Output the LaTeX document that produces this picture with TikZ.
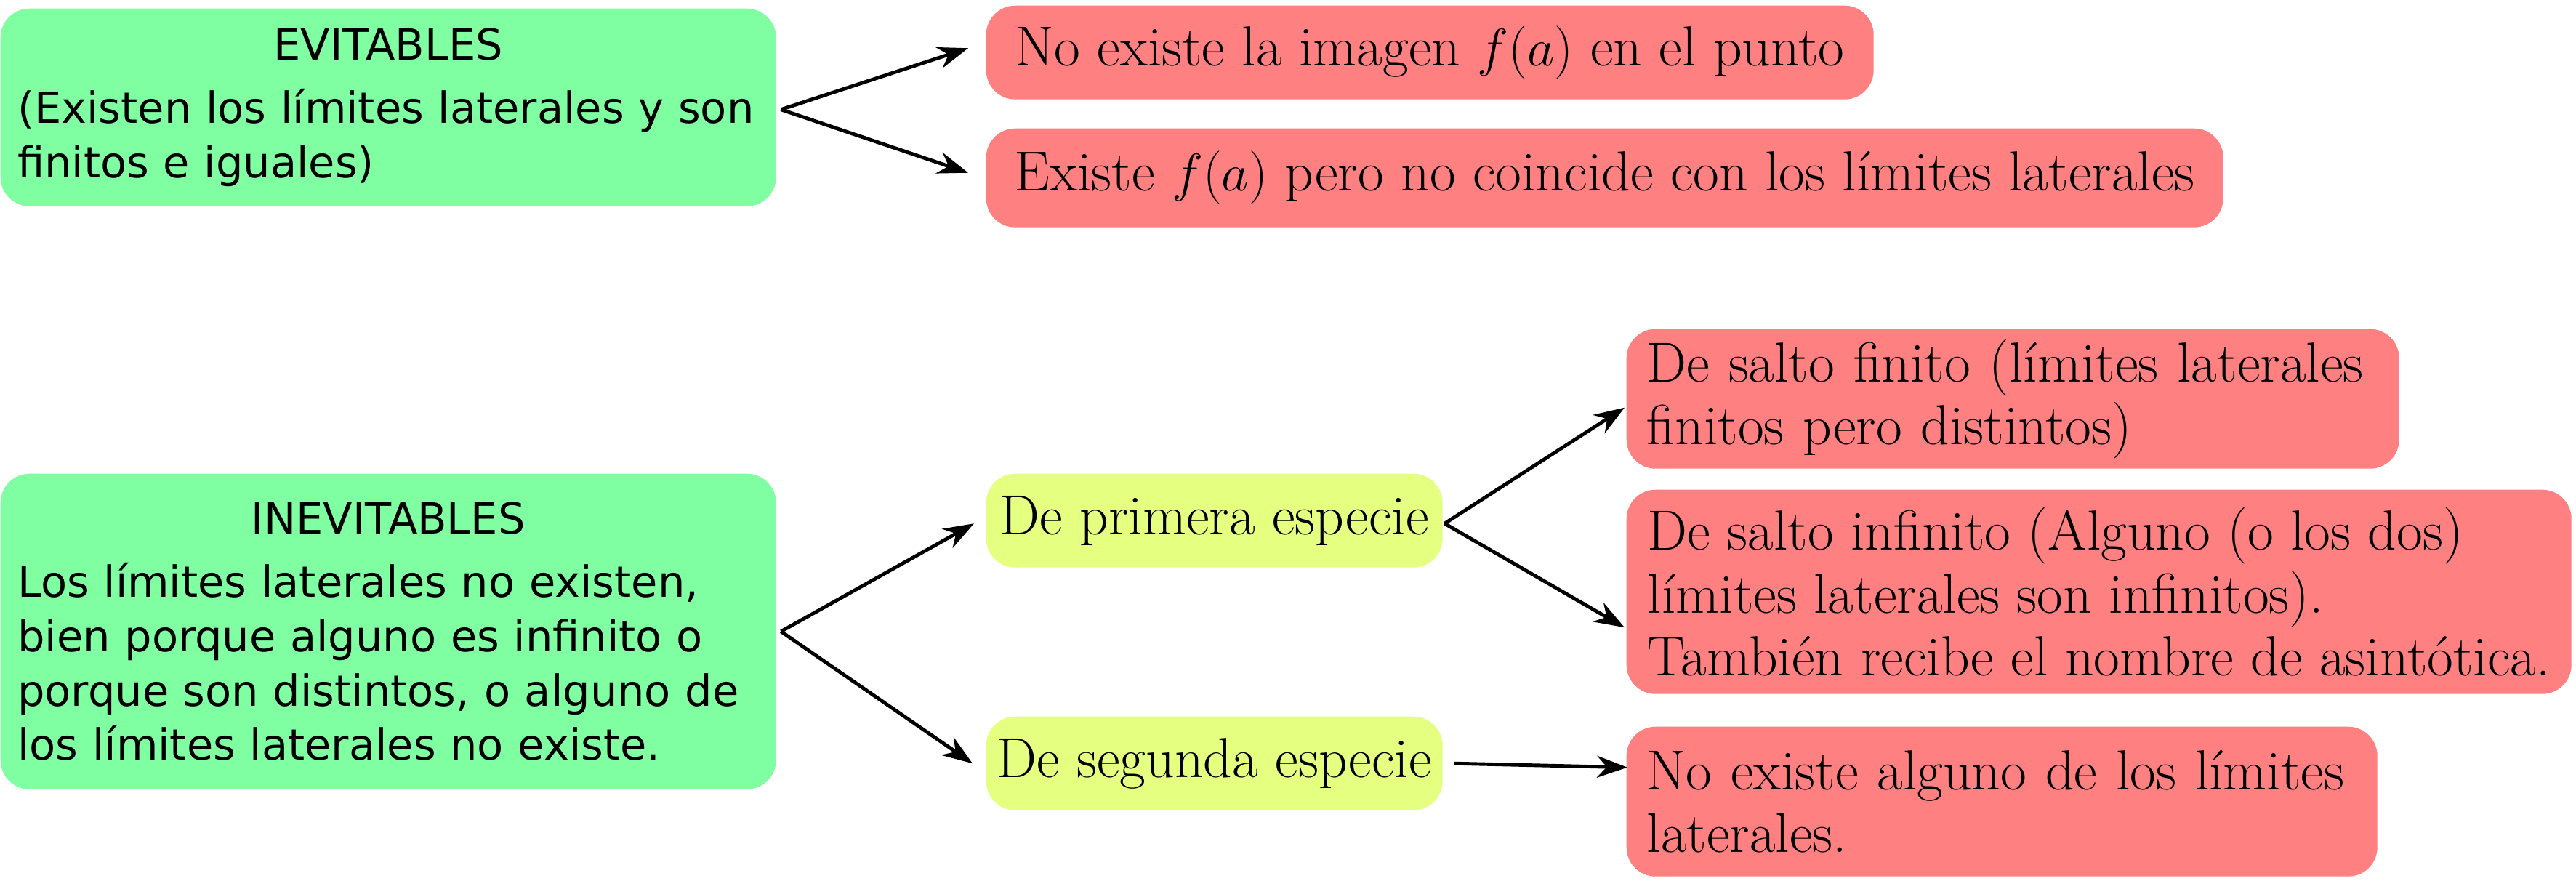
\documentclass[tikz,border=0pt]{standalone}
\usepackage{amsmath}
\usepackage{fontspec}
\setsansfont{DejaVu Sans}
\usepackage{tikz}
\usetikzlibrary{arrows.meta}
\usepackage{xcolor}
\definecolor{verde}{RGB}{128,255,162}
\definecolor{rojo}{RGB}{255,128,128}
\definecolor{amarillo}{RGB}{229,255,128}
\tikzset{
    caja/.style = {anchor=north west, rounded corners=0.4cm, align=left,
        inner xsep=0pt, inner ysep=0pt},
    verdebox/.style = {caja, fill=verde, inner xsep=0.235cm, text width=10.2cm,
        font=\sffamily\fontsize{16.8}{21.3}\selectfont},
    rojobox/.style = {caja, fill=rojo, font=\fontsize{22.1}{24.5}\selectfont},
    amarillobox/.style = {caja, fill=amarillo, font=\fontsize{22.1}{24.5}\selectfont},
    flecha/.style = {draw, -{Stealth[length=0.42cm,width=0.3cm]}, line width=1.4pt}
}

\begin{document}
\begin{tikzpicture}
        \useasboundingbox (0,0) rectangle (35.44,-12.11);
        \node[verdebox, minimum height=2.72cm] (1) at (0.0, -0.11)
            {\makebox[\hsize]{EVITABLES}\\[0.12cm](Existen los límites laterales y son\\finitos e iguales)};
        \node[rojobox, minimum width=12.21cm, minimum height=1.29cm] (2) at (13.56, -0.07)
            {No existe la imagen $f(a)$ en el punto};
        \node[rojobox, minimum width=17.02cm, minimum height=1.36cm] (3) at (13.56, -1.76)
            {Existe $f(a)$ pero no coincide con los límites laterales};
        \node[verdebox, minimum height=4.34cm] (4) at (0.0, -6.51)
            {\makebox[\hsize]{INEVITABLES}\\[0.12cm]Los límites laterales no existen,\\bien porque alguno es infinito o\\porque son distintos, o alguno de\\los límites laterales no existe.};
        \node[amarillobox, minimum width=6.28cm, minimum height=1.29cm] (5) at (13.56, -6.51)
            {De primera especie};
        \node[amarillobox, minimum width=6.28cm, minimum height=1.29cm] (6) at (13.56, -9.85)
            {De segunda especie};
        \node[rojobox, inner xsep=0.28cm, text width=10.07cm, minimum height=1.92cm] (7) at (22.37, -4.52)
            {De salto finito (límites laterales\\finitos pero distintos)};
        \node[rojobox, minimum width=13.0cm, minimum height=2.81cm] (8) at (22.37, -6.73)
            {De salto infinito (Alguno (o los dos)\\límites laterales son infinitos).\\También recibe el nombre de asintótica.};
        \node[rojobox, inner xsep=0.28cm, text width=9.77cm, minimum height=2.06cm] (9) at (22.37, -9.99)
            {No existe alguno de los límites\\laterales.};

        \path[every edge/.append style={flecha}]
            ([xshift=0.06cm,yshift=-0.03cm]1.east) edge ([xshift=-0.24cm,yshift=0.06cm]2.west)
            ([xshift=0.06cm,yshift=-0.03cm]1.east) edge ([xshift=-0.24cm,yshift=0.07cm]3.west)
            ([xshift=0.06cm]4.east) edge ([xshift=-0.16cm,yshift=-0.04cm]5.west)
            ([xshift=0.06cm]4.east) edge ([xshift=-0.18cm]6.west)
            ([xshift=0.02cm,yshift=-0.04cm]5.east) edge ([xshift=-0.02cm,yshift=-0.12cm]7.west)
            ([xshift=0.02cm,yshift=-0.04cm]5.east) edge ([xshift=-0.02cm,yshift=-0.49cm]8.west)
            ([xshift=0.15cm]6.east) edge ([xshift=0.02cm,yshift=0.47cm]9.west)
        ;
    \end{tikzpicture}
\end{document}
